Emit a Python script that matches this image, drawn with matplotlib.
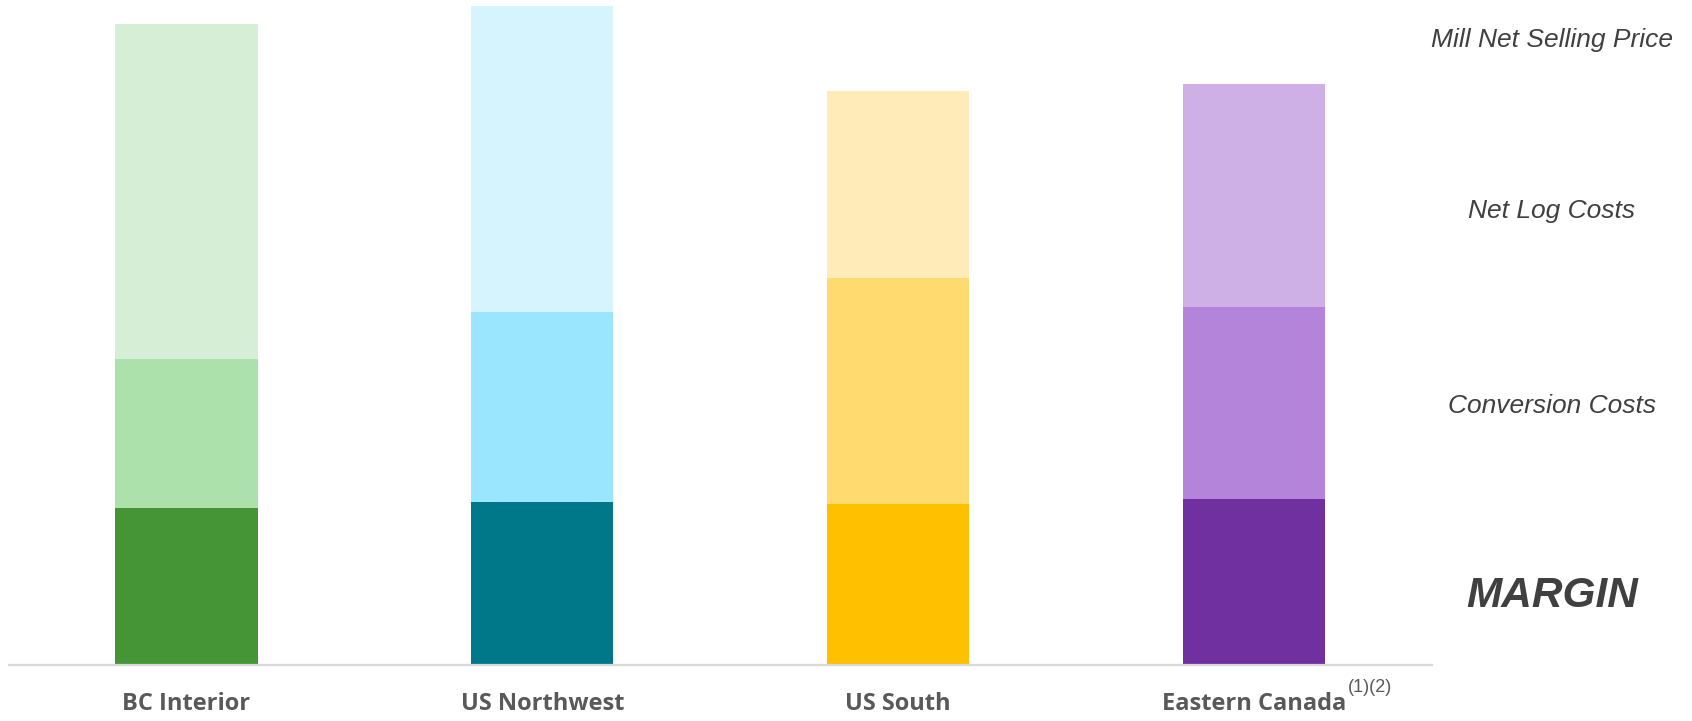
import matplotlib
matplotlib.use("Agg")
from matplotlib import pyplot as plt

# regions and the three stacked pieces (no y scale in the source, units)
regions = ['BC Interior', 'US Northwest', 'US South', 'Eastern Canada']
margin = [157, 163, 161, 166]
conversion = [149, 190, 226, 192]
net_log = [335, 306, 187, 223]

dark = ['#459537', '#00788A', '#FFC000', '#7030A0']
mid = ['#ADE1AB', '#9AE5FF', '#FFDA6E', '#B483DA']
light = ['#D6EED6', '#D6F4FD', '#FEEBB8', '#CFB0E6']

side_labels = ['Mill Net Selling Price', 'Net Log Costs', 'Conversion Costs']

fig = plt.figure(figsize=(16.92, 7.21), dpi=100)
ax = fig.add_axes([8.5 / 1692, 56 / 721, (1432 - 8.5) / 1692, 665 / 721])

x = list(range(len(regions)))
w = 0.40
bottom2 = [m for m in margin]
bottom3 = [m + c for m, c in zip(margin, conversion)]
ax.bar(x, margin, w, color=dark, linewidth=0)
ax.bar(x, conversion, w, bottom=bottom2, color=mid, linewidth=0)
ax.bar(x, net_log, w, bottom=bottom3, color=light, linewidth=0)

ax.set_xlim(-0.5, 3.5)
ax.set_ylim(0, 665)
for s in ['top', 'right', 'left']:
    ax.spines[s].set_visible(False)
ax.spines['bottom'].set_color('#d9d9d9')
ax.spines['bottom'].set_linewidth(1.6)
ax.set_yticks([])
ax.set_xticks([])

# category labels
lbls = []
for i, name in enumerate(regions):
    t = ax.text(i, -0.058, name, transform=ax.get_xaxis_transform(), ha='center', va='center',
                fontsize=17, fontweight='bold', color='#595959', family='Open Sans')
    lbls.append(t)

fig.canvas.draw()
bb = lbls[-1].get_window_extent()
bb = bb.transformed(fig.transFigure.inverted())
fig.text(bb.x1 + 0.001, bb.y1 + 0.006, '(1)(2)', fontsize=13, color='#595959',
         family='Liberation Sans', ha='left', va='center')

# right side labels
xr = 1552 / 1692
ys = [40, 211, 406]
for lab, yy in zip(side_labels, ys):
    fig.text(xr, 1 - yy / 721, lab, ha='center', va='center', fontsize=19, style='italic',
             color='#404040', family='Liberation Sans')
fig.text(xr, 1 - 596 / 721, 'MARGIN', ha='center', va='center', fontsize=30.5, style='italic',
         fontweight='bold', color='#404040', family='Liberation Sans')

fig.savefig('out.png', dpi=100)
